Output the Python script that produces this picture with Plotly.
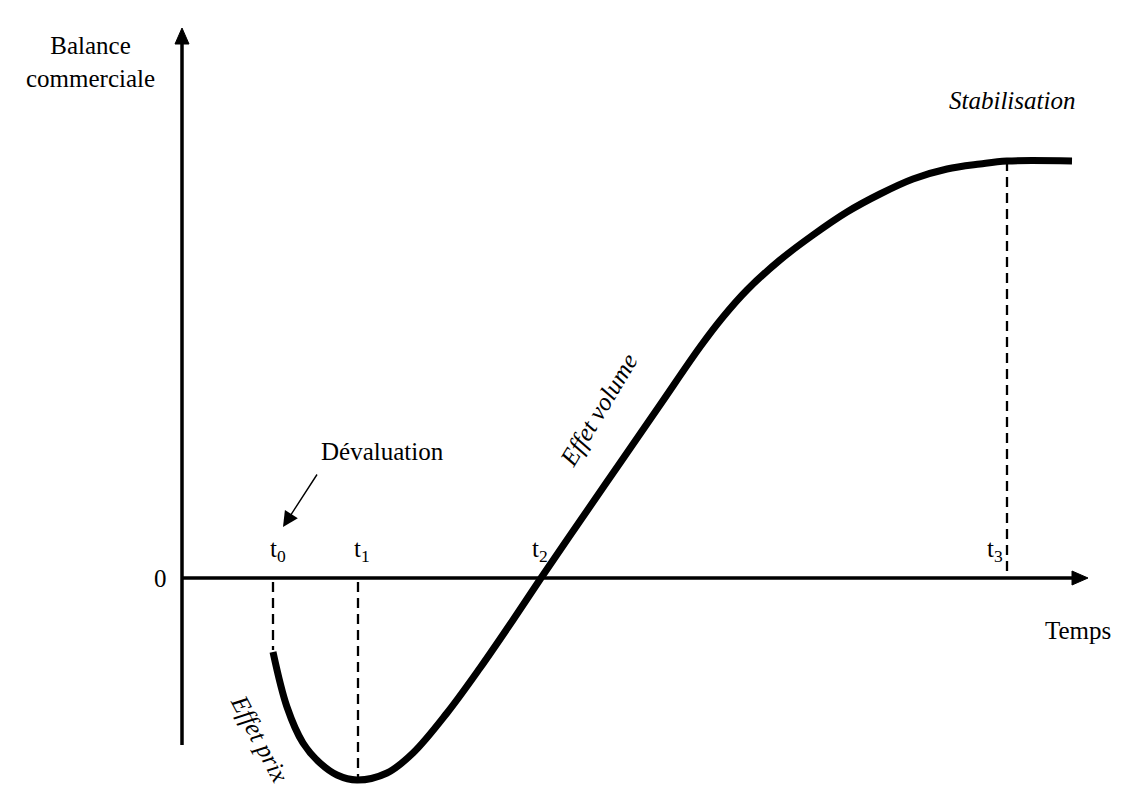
import plotly.graph_objects as go

# Coordinate system: origin at the intersection of the axes (units ~ pixels of reference)
curve_t = [91, 105, 121, 138, 155, 175, 205, 231, 265, 298, 331, 359, 398, 438, 478, 518, 541, 565, 598, 631, 665, 698, 731, 765, 798, 825, 890]
curve_b = [-74, -129, -165, -185, -197, -202, -195, -175, -135, -90, -42, 0, 57, 115, 173, 231, 261, 288, 318, 343, 366, 384, 399, 409, 414, 417, 417]

tick_names = ["t<sub>0</sub>", "t<sub>1</sub>", "t<sub>2</sub>", "t<sub>3</sub>"]
tick_pos = [91, 176, 359, 825]
tick_label_x = [96, 180, 358, 813]
dash_top = [-4, -4, None, 417]
dash_bottom = [-72, -200, None, 0]

x_axis_end = 906
y_axis_top = 550
y_axis_bottom = -167
head_len = 16
head_half = 7

FONT = "Liberation Serif"
fig = go.Figure()

# axes lines
fig.add_trace(go.Scatter(x=[0, 0], y=[y_axis_bottom, y_axis_top - head_len + 1], mode="lines",
                         line=dict(color="black", width=3.5), hoverinfo="skip"))
fig.add_trace(go.Scatter(x=[0, x_axis_end - head_len + 1], y=[0, 0], mode="lines",
                         line=dict(color="black", width=3.5), hoverinfo="skip"))
# arrow heads
fig.add_trace(go.Scatter(x=[-head_half, head_half, 0, -head_half],
                         y=[y_axis_top - head_len, y_axis_top - head_len, y_axis_top, y_axis_top - head_len],
                         fill="toself", fillcolor="black", mode="lines", line=dict(color="black", width=1),
                         hoverinfo="skip"))
fig.add_trace(go.Scatter(x=[x_axis_end - head_len, x_axis_end - head_len, x_axis_end, x_axis_end - head_len],
                         y=[-head_half, head_half, 0, -head_half],
                         fill="toself", fillcolor="black", mode="lines", line=dict(color="black", width=1),
                         hoverinfo="skip"))

# dashed guide lines
for xp, top, bot in zip(tick_pos, dash_top, dash_bottom):
    if top is None:
        continue
    fig.add_trace(go.Scatter(x=[xp, xp], y=[top, bot], mode="lines",
                             line=dict(color="black", width=2.3, dash="10px,6px"), hoverinfo="skip"))

# J-curve
fig.add_trace(go.Scatter(x=curve_t, y=curve_b, mode="lines",
                         line=dict(color="black", width=7, shape="spline", smoothing=1.0),
                         hoverinfo="skip"))

ann = []
def txt(x, y, s, size=25, italic=False, angle=0):
    ann.append(dict(x=x, y=y, xref="x", yref="y", text=s, showarrow=False,
                    xanchor="center", yanchor="middle", textangle=angle,
                    font=dict(family=FONT, size=size, color="black",
                              style="italic" if italic else "normal")))

txt(-92, 516, "Balance<br>commerciale")
txt(-22, 0, "0")
txt(896, -52, "Temps")
txt(830, 478, "Stabilisation", italic=True)
txt(200, 127, "Dévaluation")
for lx, name in zip(tick_label_x, tick_names):
    txt(lx, 28, name)
txt(416, 168, "Effet volume", italic=True, angle=-59)
txt(78, -160, "Effet prix", italic=True, angle=62)

# arrow pointing to t0
ann.append(dict(x=101, y=51, ax=136, ay=105, xref="x", yref="y", axref="x", ayref="y",
                text="", showarrow=True, arrowhead=2, arrowsize=2.2, arrowwidth=1.4,
                arrowcolor="black"))

# the page adds an 8px body margin, so the view is shifted by that amount
fig.update_layout(
    width=1148, height=795,
    margin=dict(l=0, r=0, t=0, b=0),
    paper_bgcolor="white", plot_bgcolor="white",
    showlegend=False,
    xaxis=dict(range=[-174, 974], visible=False, fixedrange=True),
    yaxis=dict(range=[-225, 570], visible=False, fixedrange=True),
    annotations=ann,
)

fig.write_html("out.html")
